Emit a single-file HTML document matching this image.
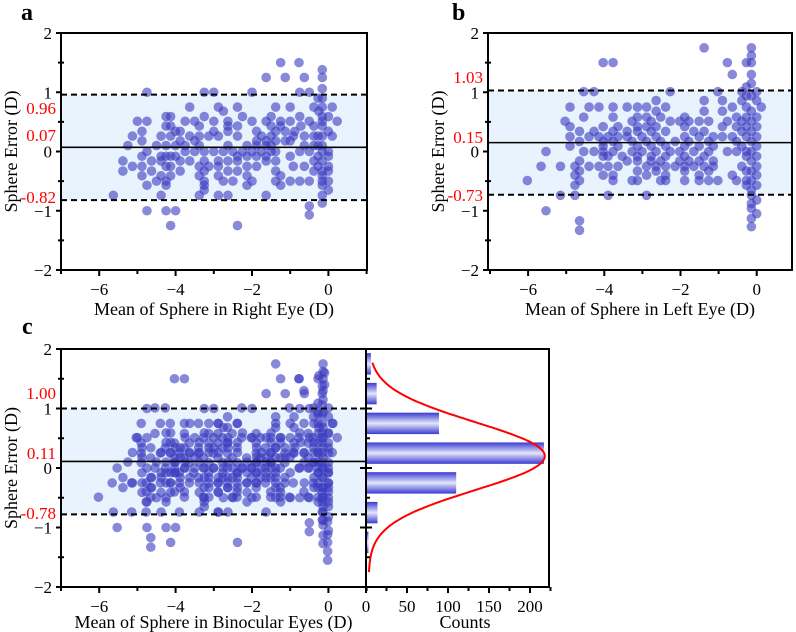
<!DOCTYPE html>
<html><head><meta charset="utf-8"><style>
body{margin:0;background:#fff}
svg{display:block;font-family:"Liberation Serif",serif}
</style></head><body>
<svg id="fig" width="796" height="632" viewBox="0 0 796 632" xmlns="http://www.w3.org/2000/svg"></svg>
<script>
// ---- Panel a data (right eye): rows of equal sphere error ----
const aY = [1.5,1.38,1.25,1.06,1.0,0.9,0.75,0.68,0.59,0.51,0.43,0.34,0.26,0.18,0.1,0,-0.08,-0.16,-0.25,-0.33,-0.41,-0.5,-0.57,-0.65,-0.74,-0.87,-0.92,-1.0,-1.07,-1.25];
const aX = [
[-1.25,-0.77],[-0.16],[-1.63,-1.13,-0.63,-0.16],[-0.16],[-4.75,-3.25,-3.0,-2.0,-0.75,-0.5],[-0.27,-0.16],
[-3.63,-2.88,-2.38,-1.38,-1.0,-0.38,-0.16,0.1],[-2.75,-0.25],[-4.25,-4.13,-3.25,-2.25,-1.5,-0.75,-0.16,0],
[-5.0,-4.75,-3.75,-3.5,-3.0,-2.63,-2.0,-1.63,-1.25,-1.0,-0.5,-0.16,0.23],
[-4.25,-4.13,-3.38,-2.63,-2.38,-1.5,-1.25,-0.72,-0.38,-0.16],
[-4.88,-4.0,-3.88,-3.0,-2.63,-1.88,-1.38,-1.13,-0.88,0],
[-5.13,-4.38,-4.13,-3.63,-3.38,-3.13,-2.88,-2.38,-1.75,-1.5,-0.92,-0.63,-0.38,-0.27,-0.16,0.1],
[-4.88,-3.88,-3.5,-1.88,-1.63,-1.38,-1.13,-1.0],
[-5.25,-4.5,-4.25,-4.0,-3.75,-3.38,-2.63,-2.13,-1.88,-1.63,-1.5,-0.63,-0.38,-0.27,-0.16],
[-4.75,-3.75,-3.5,-3.25,-3.0,-2.75,-2.5,-2.25,-2.0,-1.75,-1.5,-1.38,-0.75,-0.5,-0.16,0],
[-4.88,-4.38,-4.25,-4.13,-4.0,-2.38,-2.13,-1.88,-1.63,-1.0,-0.27,0],
[-5.38,-4.63,-4.38,-3.88,-3.63,-3.25,-2.88,-2.63,-2.38,-1.63,-1.38,-0.38,-0.16],
[-5.13,-4.88,-4.25,-4.13,-3.38,-3.13,-2.88,-2.13,-1.88,-0.92,-0.63,-0.27,0],
[-5.38,-4.63,-3.88,-3.25,-2.63,-2.38,-1.38,-0.38,-0.16,0],
[-4.88,-4.38,-4.13,-3.38,-2.88,-2.13,-1.25,-0.16],
[-4.5,-4.25,-3.25,-2.75,-2.5,-2.0,-1.38,-1.0,-0.75,-0.5,-0.16,0],
[-4.75,-4.25,-3.25,-2.13,-1.25,-0.16],[-3.25,0],[-5.63,-4.38,-3.38,-2.88,-2.63,-1.63,-0.16],
[-0.16],[-0.5],[-4.75,-4.25,-4.0],[-0.5],[-4.13,-2.38]];
const aStats = [0.96,0.07,-0.82];

// ---- Panel b data (left eye) ----
const bY = [1.75,1.62,1.5,1.3,1.15,1.09,1.01,0.94,0.86,0.75,0.68,0.58,0.51,0.42,0.34,0.25,0.17,0.09,0,-0.08,-0.16,-0.25,-0.33,-0.4,-0.49,-0.57,-0.65,-0.74,-0.82,-0.88,-0.96,-1.0,-1.05,-1.13,-1.17,-1.27,-1.33];
const bX = [
[-1.38,-0.14],[-0.14],[-4.03,-3.77,-0.77,-0.27,-0.14],[-0.64,-0.14],[-0.14],[-0.27],
[-4.54,-4.27,-2.27,-1.02,-0.39,0],[-0.27,-0.14],[-2.64,-1.38,-0.9,-0.39,0],
[-4.9,-4.4,-4.14,-3.77,-3.4,-3.13,-2.89,-2.39,-0.64,-0.27,0.12],
[-2.64,-1.38,-0.9,-0.14],
[-4.54,-3.77,-3.13,-2.89,-2.52,-1.89,-0.53,-0.27,0],
[-5.03,-3.27,-2.77,-2.27,-2.02,-1.78,-1.51,-1.26,-0.77,-0.39,-0.14],
[-4.9,-4.03,-3.64,-3.13,-2.89,-2.64,-1.89,-0.9,-0.53,-0.27,0],
[-4.65,-4.27,-3.77,-3.4,-3.13,-2.77,-2.39,-1.65,-1.38,-0.39,-0.14],
[-4.9,-4.4,-4.14,-3.9,-3.64,-3.4,-3.01,-2.64,-1.89,-1.51,-1.14,-0.9,-0.64,-0.27,0],
[-4.65,-4.03,-3.77,-3.27,-2.89,-2.52,-2.14,-1.78,-1.26,-0.53,-0.14],
[-4.9,-4.03,-3.64,-3.13,-2.77,-2.39,-1.89,-1.51,-1.14,-0.39,0],
[-5.53,-4.54,-4.27,-4.03,-3.77,-3.27,-3.01,-2.64,-2.27,-2.02,-1.65,-1.26,-0.77,-0.53,-0.27,-0.14],
[-4.03,-3.9,-3.53,-3.13,-2.77,-2.39,-1.89,-1.38,-0.27,0],
[-4.65,-3.4,-3.13,-2.77,-2.52,-2.02,-1.78,-1.51,-1.14,-0.14],
[-5.66,-5.15,-4.77,-4.4,-4.14,-3.9,-3.64,-2.89,-2.64,-2.39,-2.14,-1.89,-1.65,-1.38,-1.14,-0.39,0],
[-4.65,-3.13,-2.64,-1.89,-1.26,-0.27,-0.14],
[-4.77,-4.03,-3.77,-2.89,-2.39,-1.51,-0.64,0],
[-6.02,-4.65,-3.77,-3.27,-3.13,-2.52,-2.39,-1.89,-1.51,-1.26,-1.02,-0.53,-0.27,-0.14],
[-4.77,-0.27,0],[-0.14],[-5.15,-4.77,-3.9,-2.89,-0.14],[0],[-0.14],[-0.14],[-5.53],[0],[-0.14],[-4.65],[-0.14],[-4.65]];
const bStats = [1.03,0.15,-0.73];

// ---- Panel c extras (binocular; combined with a and b) ----
const cExtraX = [-0.02,-0.02,-0.02,-0.02,-0.02,-0.1,-0.1,-0.25];
const cExtraY = [-1.55,-1.4,-1.25,-1.12,-0.9,1.6,1.4,1.55];
const cStats = [1.00,0.11,-0.78];

// ---- Histogram data ----
const histCenters = [1.75,1.25,0.75,0.25,-0.25,-0.75,-1.25];
const histCounts = [6,13,89,217,110,14,3];
const fitAmp = 215, fitMu = 0.2, fitSigma = 0.57, fitBase = 3;

const yTicks = [2,1,0,-1,-2];
const xTicks = [-6,-4,-2,0];
const countTicks = [0,50,100,150,200];

const NS = "http://www.w3.org/2000/svg";
const svg = document.getElementById('fig');
function mk(tag, attrs, parent){
  const e = document.createElementNS(NS, tag);
  for (const k in attrs) e.setAttribute(k, attrs[k]);
  (parent||svg).appendChild(e);
  return e;
}
function txt(str, attrs, parent){ const t = mk('text', attrs, parent); t.textContent = str; return t; }

function panel(P){
  const g = mk('g', {});
  
  
  const X = v => P.x0 + (v - P.xmin) * P.sx;
  const Y = v => P.yTop + (2 - v) * P.sy;
  const band = mk('rect', {x:P.L, y:Y(P.stats[0]), width:P.R-P.L, height:Y(P.stats[2])-Y(P.stats[0]), fill:'#e8f3fd'}, g);
  
  
  const pts = mk('g', {fill:'#3a3ac0', 'fill-opacity':'0.6'}, g);
  
  
  P.sets.forEach(([ys, xs]) => {
    ys.forEach((yv, i) => xs[i].forEach(xv => {
      const c = mk('circle', {cx:X(xv), cy:Y(yv), r:4.8}, pts);
      
      
    }));
  });
  if (P.extraX) P.extraX.forEach((xv,i) => {
    const c = mk('circle', {cx:X(xv), cy:Y(P.extraY[i]), r:4.8}, pts);
    
    
  });
  [0,2].forEach(k => {
    const l = mk('line', {x1:P.L, x2:P.R, y1:Y(P.stats[k]), y2:Y(P.stats[k]), stroke:'#000', 'stroke-width':2, 'stroke-dasharray':'6,4'}, g);
    
    
  });
  const ml = mk('line', {x1:P.L, x2:P.R, y1:Y(P.stats[1]), y2:Y(P.stats[1]), stroke:'#000', 'stroke-width':1.6}, g);
  
  
  const fr = mk('rect', {x:P.L, y:P.yTop, width:P.R-P.L, height:4*P.sy, fill:'none', stroke:'#000', 'stroke-width':2}, g);
  
  
  for (let v=-2; v<=2; v+=0.5){
    const maj = Number.isInteger(v);
    mk('line', {x1:P.L-(maj?5:0), x2:P.L+(maj?0:3), y1:Y(v), y2:Y(v), stroke:'#000', 'stroke-width':2}, g);
    if (!maj) mk('line', {x1:P.L-3, x2:P.L, y1:Y(v), y2:Y(v), stroke:'#000', 'stroke-width':2}, g);
  }
  yTicks.forEach(v => {
    const t = txt(v<0 ? '\u2212'+Math.abs(v) : String(v), {x:P.L-9, y:Y(v)+6, 'text-anchor':'end', 'font-size':17}, g);
    
    
  });
  for (let v=-7; v<=1; v+=1){
    const px = X(v); if (px < P.L-1 || px > P.R+1) continue;
    mk('line', {x1:px, x2:px, y1:Y(-2), y2:Y(-2)+(v%2===0?6:4), stroke:'#000', 'stroke-width':2}, g);
  }
  xTicks.forEach(v => {
    const t = txt(v<0 ? '\u2212'+Math.abs(v) : String(v), {x:X(v), y:Y(-2)+25, 'text-anchor':'middle', 'font-size':17}, g);
    
    
  });
  P.stats.forEach((v,k) => {
    const t = txt(v.toFixed(2), {x:P.L-5, y:P.statLabelY[k], 'text-anchor':'end', 'font-size':17, fill:'#ff0000'}, g);
    
    
  });
  const yt = txt('Sphere Error (D)', {x:0, y:0, 'text-anchor':'middle', 'font-size':18, transform:`translate(${P.L-44},${P.yTop+2*P.sy}) rotate(-90)`}, g);
  
  
  const xt = txt(P.xTitle, {x:(P.L+P.R)/2, y:P.xTitleY, 'text-anchor':'middle', 'font-size':18}, g);
  
  
  const pl = txt(P.letter, {x:P.letterX, y:P.letterY, 'font-size':24, 'font-weight':'bold'}, g);
  
  
  return {X, Y};
}

panel({name:'panel-a', L:61, R:367, x0:61, xmin:-7, sx:38.2, yTop:33, sy:59.25, stats:aStats,
  sets:[[aY,aX]], statLabelY:[114,141,203], xTitle:'Mean of Sphere in Right Eye (D)', xTitleY:315, letter:'a', letterX:21, letterY:20});
panel({name:'panel-b', L:488, R:792, x0:490, xmin:-7, sx:38.1, yTop:33, sy:59.25, stats:bStats,
  sets:[[bY,bX]], statLabelY:[83,143,201], xTitle:'Mean of Sphere in Left Eye (D)', xTitleY:315, letter:'b', letterX:452, letterY:20});
const cAx = panel({name:'panel-c', L:61, R:366, x0:61, xmin:-7, sx:38.2, yTop:349, sy:59.5, stats:cStats,
  sets:[[aY,aX],[bY,bX]], extraX:cExtraX, extraY:cExtraY, statLabelY:[399,459,519], xTitle:'Mean of Sphere in Binocular Eyes (D)', xTitleY:628, letter:'c', letterX:22, letterY:334});

(function(){
  const g = mk('g', {});
  
  
  const HL = 366, HR = 549;
  const CX = c => HL + c * 0.82;
  const Y = cAx.Y;
  const defs = mk('defs', {}, g);
  const lg = mk('linearGradient', {id:'barGrad', x1:0, y1:0, x2:0, y2:1}, defs);
  [[0,'#3a3ad0'],[0.5,'#e4e6fb'],[1,'#3a3ad0']].forEach(([o,c]) => mk('stop', {offset:o, 'stop-color':c}, lg));
  histCenters.forEach((cv,i) => {
    const top = Y(cv + 0.18), bot = Y(cv - 0.18);
    const r = mk('rect', {x:HL, y:top, width:CX(histCounts[i])-HL, height:bot-top, fill:'url(#barGrad)'}, g);
    
    
  });
  let d = '';
  for (let v=1.77; v>=-1.77; v-=0.02){
    const c = fitBase + fitAmp * Math.exp(-((v-fitMu)**2)/(2*fitSigma*fitSigma));
    d += (d ? 'L' : 'M') + CX(c).toFixed(1) + ',' + Y(v).toFixed(1);
  }
  const fit = mk('path', {d, fill:'none', stroke:'#ff0000', 'stroke-width':2}, g);
  
  
  const fr = mk('rect', {x:HL, y:349, width:HR-HL, height:238, fill:'none', stroke:'#000', 'stroke-width':2}, g);
  
  
  for (let v=-1.5; v<=1.5; v+=0.5){
    const maj = Number.isInteger(v);
    mk('line', {x1:HL-(maj?6:0), x2:HL+(maj?6:4), y1:Y(v), y2:Y(v), stroke:'#000', 'stroke-width':2}, g);
  }
  for (let c=0; c<=225; c+=25){
    mk('line', {x1:CX(c), x2:CX(c), y1:587, y2:587+(c%50===0?6:4), stroke:'#000', 'stroke-width':2}, g);
  }
  countTicks.forEach(c => {
    const t = txt(String(c), {x:CX(c), y:612, 'text-anchor':'middle', 'font-size':17}, g);
    
    
  });
  const xt = txt('Counts', {x:465, y:628, 'text-anchor':'middle', 'font-size':18}, g);
  
  
})();
</script>
</body></html>
